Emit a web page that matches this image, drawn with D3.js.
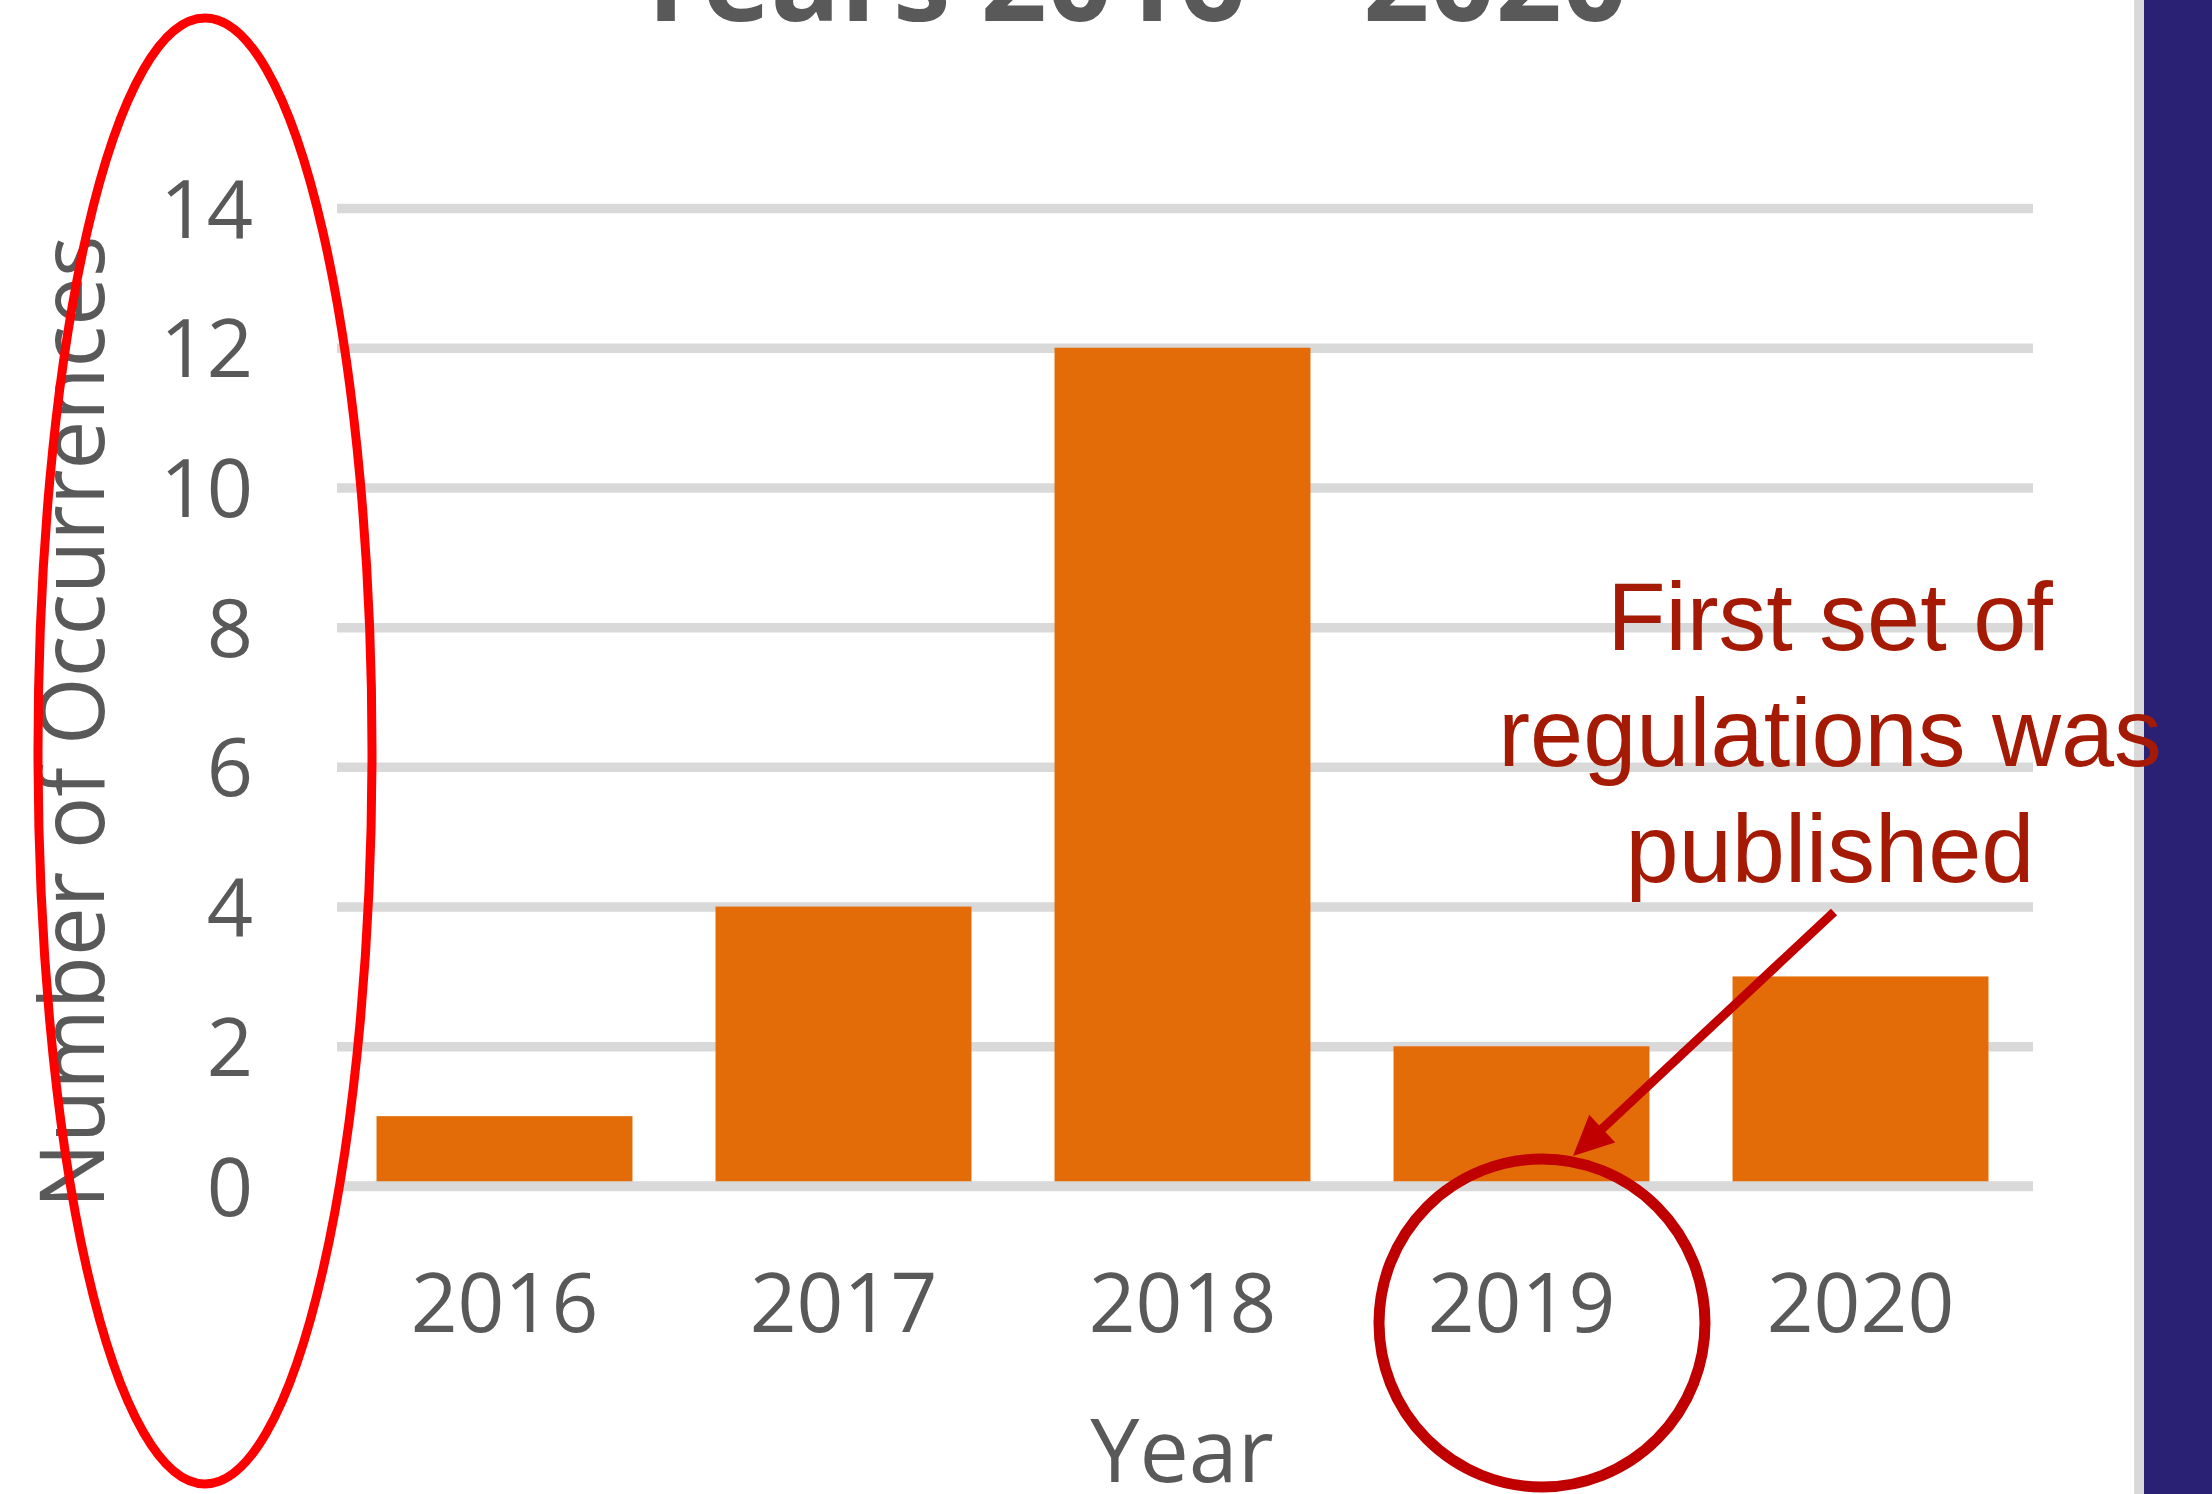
<!DOCTYPE html>
<html>
<head>
<meta charset="utf-8">
<script src="https://cdn.jsdelivr.net/npm/d3@7"></script>
<style>
  html, body { margin: 0; padding: 0; background: #ffffff; }
  svg { display: block; }
</style>
</head>
<body>
<svg id="chart" width="2212" height="1494"></svg>
<script>
// ---- data ----
const years = ["2016", "2017", "2018", "2019", "2020"];
const occurrences = [1, 4, 12, 2, 3];
const yTicks = [0, 2, 4, 6, 8, 10, 12, 14];
const titleText = "Years 2016 \u2013 2020";
const yTitle = "Number of Occurrences";
const xTitle = "Year";
const noteLines = ["First set of", "regulations was", "published"];

// ---- layout ----
const W = 2212, H = 1494;
const plotLeft = 335, plotRight = 2030, plotTop = 208, plotBottom = 1186;
const gridLeft = 337, gridRight = 2033;
const textGrey = "#595959";
const gridGrey = "#d9d9d9";
const barColor = "#e36c09";
const darkRed = "#c00000";
const noteColor = "#a51a05";

const svg = d3.select("#chart");

const x = d3.scaleBand().domain(years).range([plotLeft, plotRight])
  .paddingInner(0.245).paddingOuter(0.1225);
const y = d3.scaleLinear().domain([0, 14]).range([plotBottom, plotTop]);

// right side decoration
svg.append("rect").attr("x", 2134).attr("y", 0).attr("width", 10).attr("height", H).attr("fill", gridGrey);
svg.append("rect").attr("x", 2144).attr("y", 0).attr("width", W - 2144).attr("height", H).attr("fill", "#2a2074");

// title (clipped at top)
svg.append("text")
  .attr("x", 630).attr("y", 21)
  .attr("textLength", 998).attr("lengthAdjust", "spacingAndGlyphs")
  .attr("font-family", "'Open Sans', sans-serif").attr("font-weight", "bold")
  .attr("font-size", 118).attr("fill", textGrey)
  .text(titleText);

// y axis with gridlines
const yAxis = svg.append("g")
  .attr("transform", `translate(${gridLeft},0)`)
  .call(d3.axisLeft(y).tickValues(yTicks).tickSize(-(gridRight - gridLeft)).tickPadding(84).tickFormat(d3.format("d")));
yAxis.select(".domain").remove();
yAxis.selectAll(".tick line").attr("stroke", gridGrey).attr("stroke-width", 9.5);
yAxis.selectAll(".tick text")
  .attr("font-family", "'Open Sans', sans-serif").attr("font-size", 81)
  .attr("fill", textGrey).attr("dy", 29);

// bars
svg.append("g").selectAll("rect").data(years).join("rect")
  .attr("x", d => x(d))
  .attr("width", x.bandwidth())
  .attr("y", (d, i) => y(occurrences[i]))
  .attr("height", (d, i) => y(0) - y(occurrences[i]))
  .attr("fill", barColor);

// zero baseline on top of bars
svg.append("line")
  .attr("x1", gridLeft).attr("x2", gridRight)
  .attr("y1", y(0)).attr("y2", y(0))
  .attr("stroke", gridGrey).attr("stroke-width", 9.5);

// x axis labels
const xAxis = svg.append("g")
  .attr("transform", `translate(0,${y(0)})`)
  .call(d3.axisBottom(x).tickSize(0).tickPadding(0));
xAxis.select(".domain").remove();
xAxis.selectAll(".tick text")
  .attr("y", 146).attr("dy", null)
  .attr("font-family", "'Open Sans', sans-serif").attr("font-size", 82)
  .attr("fill", textGrey);

// axis titles
svg.append("text")
  .attr("transform", "translate(104,722) rotate(-90)")
  .attr("text-anchor", "middle")
  .attr("textLength", 973).attr("lengthAdjust", "spacingAndGlyphs")
  .attr("font-family", "'Open Sans', sans-serif").attr("font-size", 89)
  .attr("fill", textGrey)
  .text(yTitle);

svg.append("text")
  .attr("x", 1182).attr("y", 1482)
  .attr("text-anchor", "middle")
  .attr("font-family", "'Open Sans', sans-serif").attr("font-size", 88)
  .attr("fill", textGrey)
  .text(xTitle);

// red ellipse around y axis
svg.append("ellipse")
  .attr("cx", 205).attr("cy", 751).attr("rx", 167).attr("ry", 733)
  .attr("fill", "none").attr("stroke", "#ff0000").attr("stroke-width", 9);

// dark red circle around 2019
svg.append("ellipse")
  .attr("cx", 1542).attr("cy", 1323).attr("rx", 163).attr("ry", 164)
  .attr("fill", "none").attr("stroke", darkRed).attr("stroke-width", 11);

// arrow
const S = [1834, 912], T = [1573, 1156];
const dx = T[0] - S[0], dy = T[1] - S[1], len = Math.hypot(dx, dy);
const ux = dx / len, uy = dy / len, nx = -uy, ny = ux;
const headLen = 40, headHalf = 19;
const B = [T[0] - headLen * ux, T[1] - headLen * uy];
svg.append("line")
  .attr("x1", S[0]).attr("y1", S[1]).attr("x2", B[0] + 4 * ux).attr("y2", B[1] + 4 * uy)
  .attr("stroke", darkRed).attr("stroke-width", 9);
svg.append("polygon")
  .attr("points", [T, [B[0] + headHalf * nx, B[1] + headHalf * ny], [B[0] - headHalf * nx, B[1] - headHalf * ny]].map(p => p.join(",")).join(" "))
  .attr("fill", darkRed);

// annotation text
svg.append("g").selectAll("text").data(noteLines).join("text")
  .attr("x", 1830).attr("y", (d, i) => 650 + i * 116)
  .attr("text-anchor", "middle")
  .attr("font-family", "'Liberation Sans', Arial, sans-serif").attr("font-size", 95.5)
  .attr("fill", noteColor)
  .text(d => d);
</script>
</body>
</html>
